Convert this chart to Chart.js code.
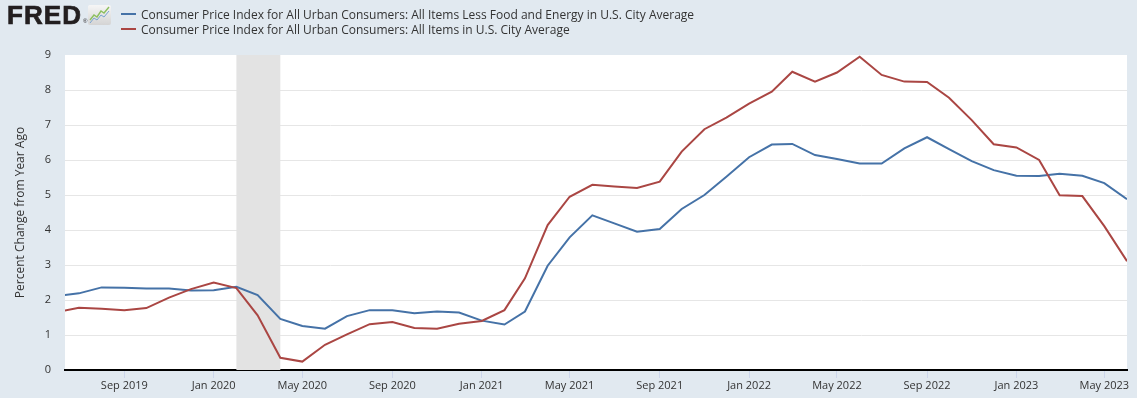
<!DOCTYPE html>
<html>
<head>
<meta charset="utf-8">
<script src="https://cdn.jsdelivr.net/npm/chart.js@4.4.0/dist/chart.umd.min.js"></script>
<style>
html,body{margin:0;padding:0;background:#e1e9f0;}
#wrap{position:relative;width:1137px;height:398px;overflow:hidden;background:#e1e9f0;}
#c{position:absolute;left:0;top:0;}
#logo{position:absolute;left:7px;top:2px;font-family:"Liberation Sans",Arial,sans-serif;font-weight:bold;font-size:26px;line-height:26px;color:#231f20;letter-spacing:1.1px;-webkit-text-stroke:0.7px #231f20;}
#reg{position:absolute;left:83px;top:18px;font-family:"Liberation Sans",Arial,sans-serif;font-size:6px;line-height:6px;color:#231f20;}
#icon{position:absolute;left:88px;top:5px;}
.lg{position:absolute;left:121px;height:15px;white-space:nowrap;}
.lg .sw{position:absolute;left:0;top:6px;width:15px;height:2px;}
.lg .tx{position:absolute;left:20px;top:0;font-family:"Open Sans",sans-serif;font-size:12px;line-height:15px;color:#333;}
</style>
</head>
<body>
<div id="wrap">
  <canvas id="c" width="1137" height="398"></canvas>
  <div id="logo">FRED</div>
  <div id="reg">®</div>
  <svg id="icon" width="23" height="20" viewBox="0 0 23 20">
    <defs><linearGradient id="ig" x1="0" y1="0" x2="0" y2="1"><stop offset="0" stop-color="#f6f6f6"/><stop offset="1" stop-color="#d4d4d4"/></linearGradient></defs>
    <rect x="0" y="0" width="23" height="20" rx="2" fill="url(#ig)"/>
    <polyline points="2,15 6,10 9,12 13,6 16,8 21,2" fill="none" stroke="#8cbf5e" stroke-width="1.4"/>
    <polyline points="2,18 6,13 9,15 13,10 16,12 21,6" fill="none" stroke="#79a3cf" stroke-width="1"/>
  </svg>
  <div id="legend"></div>
</div>
<script>
// ---- Data ----
const months = [
  '2019-06','2019-07','2019-08','2019-09','2019-10','2019-11','2019-12',
  '2020-01','2020-02','2020-03','2020-04','2020-05','2020-06','2020-07','2020-08','2020-09','2020-10','2020-11','2020-12',
  '2021-01','2021-02','2021-03','2021-04','2021-05','2021-06','2021-07','2021-08','2021-09','2021-10','2021-11','2021-12',
  '2022-01','2022-02','2022-03','2022-04','2022-05','2022-06','2022-07','2022-08','2022-09','2022-10','2022-11','2022-12',
  '2023-01','2023-02','2023-03','2023-04','2023-05','2023-06'
];
const coreCPI = [
  2.12,2.19,2.36,2.35,2.33,2.33,2.27,
  2.28,2.38,2.14,1.46,1.26,1.18,1.54,1.71,1.71,1.62,1.67,1.64,
  1.41,1.30,1.67,2.98,3.79,4.42,4.19,3.95,4.03,4.60,5.00,5.52,
  6.08,6.44,6.46,6.14,6.03,5.90,5.90,6.33,6.65,6.31,5.97,5.71,
  5.55,5.54,5.61,5.55,5.34,4.88
];
const allItemsCPI = [
  1.65,1.78,1.75,1.71,1.77,2.07,2.31,
  2.50,2.34,1.56,0.35,0.24,0.72,1.02,1.31,1.37,1.20,1.18,1.32,
  1.40,1.71,2.62,4.14,4.95,5.29,5.24,5.20,5.38,6.24,6.88,7.21,
  7.61,7.95,8.52,8.24,8.50,8.95,8.43,8.24,8.23,7.78,7.14,6.45,
  6.36,6.00,4.99,4.97,4.11,3.11
];
const seriesNames = [
  'Consumer Price Index for All Urban Consumers: All Items Less Food and Energy in U.S. City Average',
  'Consumer Price Index for All Urban Consumers: All Items in U.S. City Average'
];
const seriesColors = ['#4572a7', '#aa4643'];
const tickMonths = ['2019-09','2020-01','2020-05','2020-09','2021-01','2021-05','2021-09','2022-01','2022-05','2022-09','2023-01','2023-05'];
const tickLabels = ['Sep 2019','Jan 2020','May 2020','Sep 2020','Jan 2021','May 2021','Sep 2021','Jan 2022','May 2022','Sep 2022','Jan 2023','May 2023'];
const recession = ['2020-02-01', '2020-04-01'];
const xRange = ['2019-06-12', '2023-06-01'];
const yTitle = 'Percent Change from Year Ago';

// ---- helpers ----
function toDay(s) {
  const p = s.split('-').map(Number);
  return Date.UTC(p[0], p[1] - 1, p[2] || 1) / 86400000;
}

// ---- HTML legend ----
const legend = document.getElementById('legend');
seriesNames.forEach((name, i) => {
  const row = document.createElement('div');
  row.className = 'lg';
  row.style.top = (7 + i * 15) + 'px';
  const sw = document.createElement('div');
  sw.className = 'sw';
  sw.style.background = seriesColors[i];
  const tx = document.createElement('div');
  tx.className = 'tx';
  tx.textContent = name;
  row.appendChild(sw); row.appendChild(tx);
  legend.appendChild(row);
});

const plotBg = {
  id: 'plotBg',
  beforeDraw(chart) {
    const {ctx, chartArea: a} = chart;
    ctx.save();
    ctx.fillStyle = '#ffffff';
    ctx.fillRect(a.left, a.top, a.right - a.left, a.bottom - a.top);
    ctx.restore();
  }
};
const recessionBand = {
  id: 'recessionBand',
  beforeDatasetsDraw(chart) {
    const {ctx, chartArea: a, scales: {x}} = chart;
    const x0 = x.getPixelForValue(toDay(recession[0]));
    const x1 = x.getPixelForValue(toDay(recession[1]));
    ctx.save();
    ctx.fillStyle = '#e3e3e3';
    ctx.fillRect(x0, a.top, x1 - x0, a.bottom - a.top);
    ctx.restore();
  }
};

const mk = (vals) => months.map((m, i) => ({x: toDay(m), y: vals[i]}));

new Chart(document.getElementById('c'), {
  type: 'line',
  data: {
    datasets: [
      {label: seriesNames[0], data: mk(coreCPI), borderColor: seriesColors[0], borderWidth: 2, pointRadius: 0, tension: 0, fill: false, clip: 0, order: 1},
      {label: seriesNames[1], data: mk(allItemsCPI), borderColor: seriesColors[1], borderWidth: 2, pointRadius: 0, tension: 0, fill: false, clip: 0, order: 0}
    ]
  },
  options: {
    responsive: false,
    animation: false,
    devicePixelRatio: 1,
    layout: {padding: {top: 55, right: 10, bottom: 0, left: 0}},
    plugins: {legend: {display: false}, tooltip: {enabled: false}},
    scales: {
      x: {
        type: 'linear',
        min: toDay(xRange[0]),
        max: toDay(xRange[1]),
        afterFit(s) { s.height = 28; },
        afterBuildTicks(s) { s.ticks = tickMonths.map(m => ({value: toDay(m)})); },
        ticks: {
          autoSkip: false, maxRotation: 0, minRotation: 0, padding: 1,
          color: '#333', font: {family: 'Open Sans', size: 11},
          callback: (v, i) => tickLabels[i]
        },
        grid: {display: true, drawOnChartArea: false, drawTicks: true, tickLength: 8, tickColor: '#ccd6eb', tickWidth: 1},
        border: {display: true, color: '#000000', width: 2}
      },
      y: {
        min: 0, max: 9,
        afterFit(s) { s.width = 65; },
        ticks: {stepSize: 1, padding: 14, color: '#333', font: {family: 'Open Sans', size: 11}},
        grid: {
          drawTicks: false, lineWidth: 1,
          color: (c) => (c.tick && c.tick.value === 9) ? 'rgba(0,0,0,0)' : '#e6e6e6'
        },
        border: {display: false},
        title: {display: true, text: yTitle, color: '#333', font: {family: 'Open Sans', size: 12}, padding: {top: 13.5, bottom: 0}}
      }
    }
  },
  plugins: [plotBg, recessionBand]
});
</script>
</body>
</html>
